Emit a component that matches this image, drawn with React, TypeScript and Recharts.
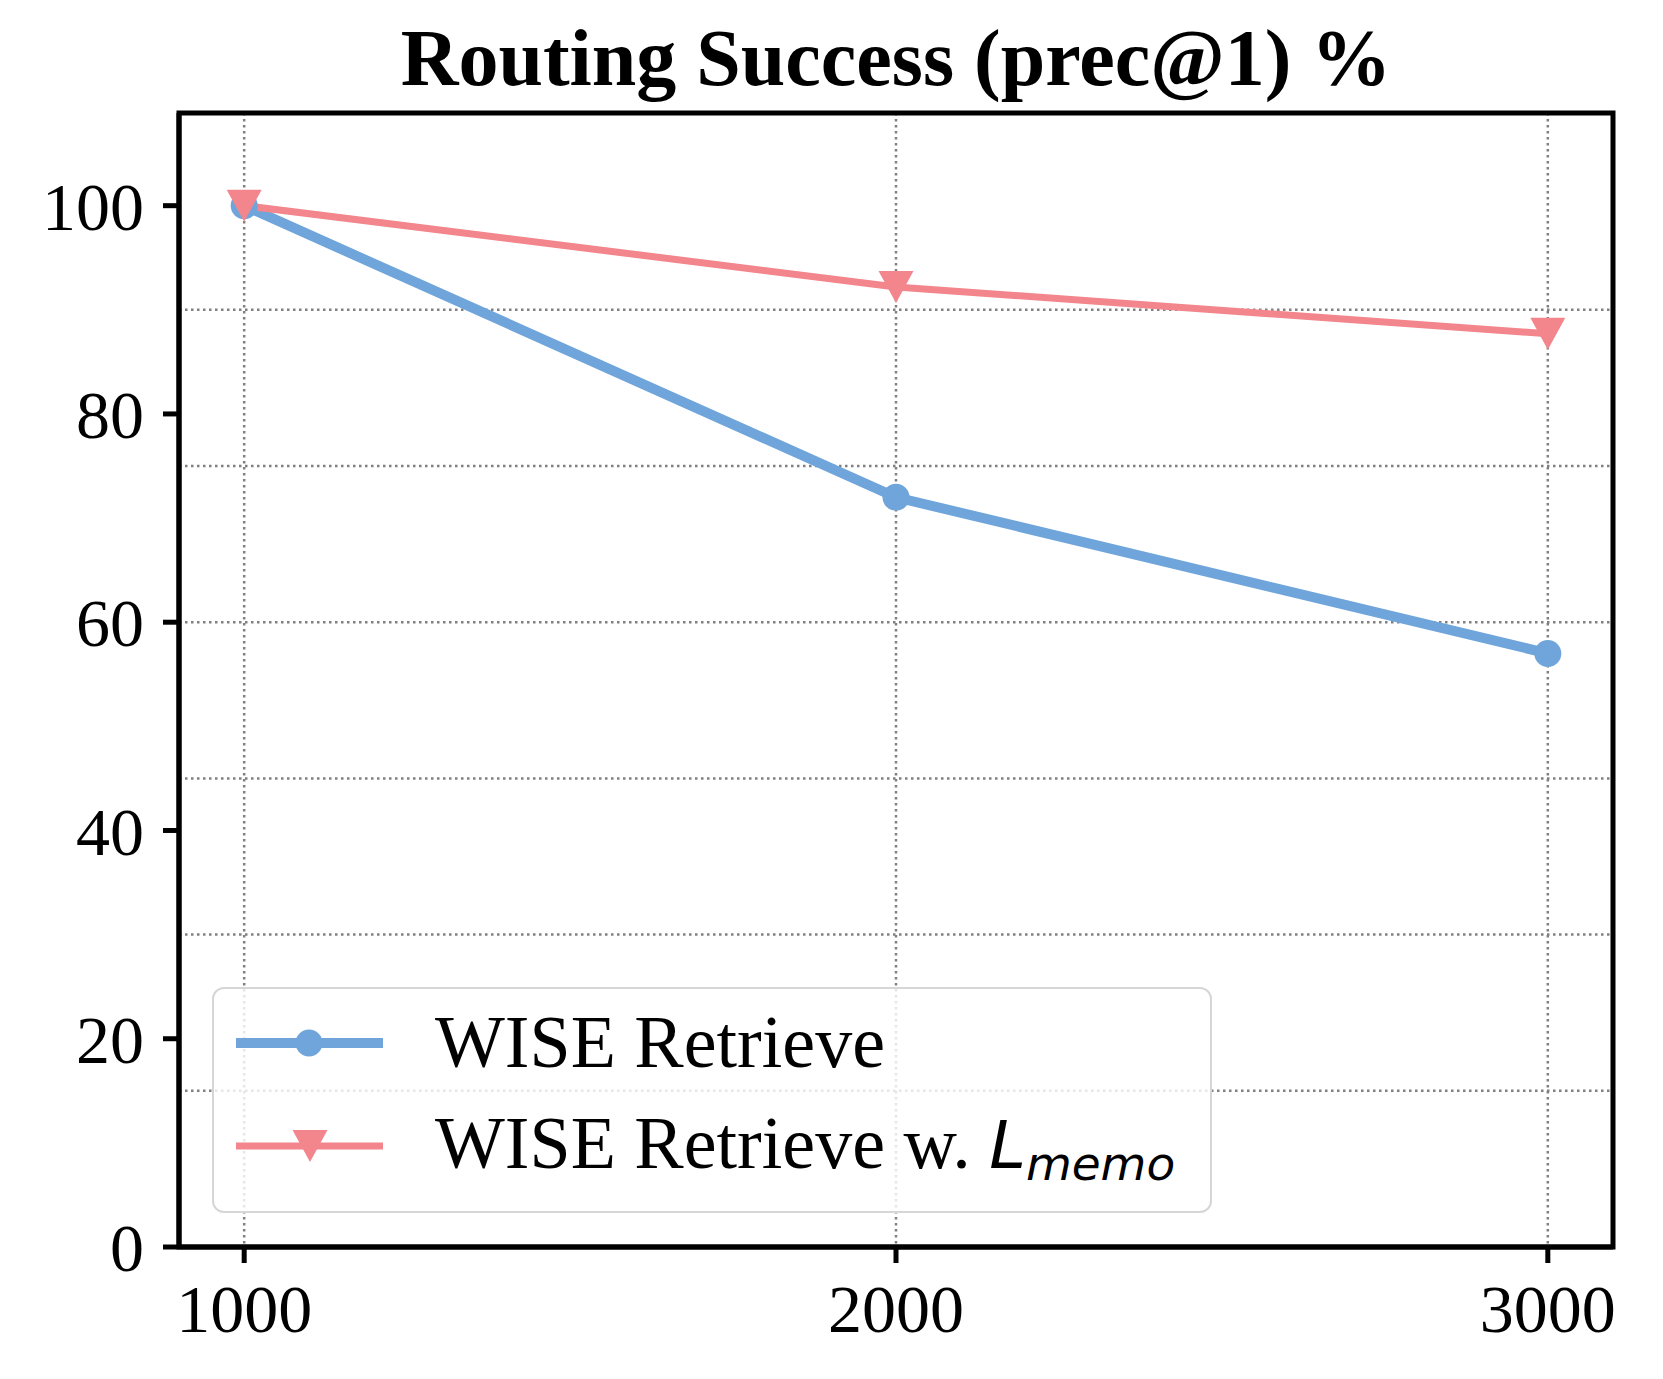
import { LineChart, Line, XAxis, YAxis, CartesianGrid, ReferenceArea } from 'recharts';

const sizes = [1000, 2000, 3000];
const wiseRetrieve = [100, 72.0, 57.0];
const wiseRetrieveMemo = [100, 92.2, 87.7];

const xDomain = [900, 3100];
const yDomain = [0, 108.9];
const yTicks = [0, 20, 40, 60, 80, 100];
const gridRows = [15, 30, 45, 60, 75, 90];

const BLUE = '#6fa5da';
const RED = '#f2868c';
const SERIF = '"Liberation Serif", "Times New Roman", serif';

const data = sizes.map((n, i) => ({
  n,
  retrieve: wiseRetrieve[i],
  memo: wiseRetrieveMemo[i],
}));

const spine = { stroke: '#000', strokeWidth: 5 };
const tickFont = { fill: '#000', fontSize: 68, fontFamily: SERIF };

function TriangleDown(props: any) {
  const { cx, cy, fill } = props;
  if (cx == null || cy == null) return null;
  const w = 35;
  const h = 32;
  return (
    <polygon
      points={`${cx - w / 2},${cy - h / 2} ${cx + w / 2},${cy - h / 2} ${cx},${cy + h / 2}`}
      fill={fill}
    />
  );
}

function Overlay() {
  return (
    <svg
      width={1663}
      height={1379}
      style={{ position: 'absolute', left: 0, top: 0, pointerEvents: 'none' }}
    >
      <text
        x={896}
        y={85}
        textAnchor="middle"
        fontFamily={SERIF}
        fontWeight="bold"
        fontSize={80}
        fill="#000"
      >
        Routing Success (prec@1) %
      </text>

      {/* legend */}
      <rect
        x={213}
        y={988}
        width={998}
        height={224}
        rx={11}
        fill="rgba(255,255,255,0.8)"
        stroke="#d6d6d6"
        strokeWidth={2}
      />
      <line x1={236} x2={383} y1={1043} y2={1043} stroke={BLUE} strokeWidth={10} />
      <circle cx={309} cy={1043} r={13.5} fill={BLUE} />
      <text x={435} y={1067} fontFamily={SERIF} fontSize={74} fill="#000">
        WISE Retrieve
      </text>

      <line x1={236} x2={383} y1={1146} y2={1146} stroke={RED} strokeWidth={7} />
      <TriangleDown cx={310} cy={1146} fill={RED} />
      <text x={435} y={1168} fontFamily={SERIF} fontSize={74} fill="#000">
        WISE Retrieve w.{' '}
        <tspan fontFamily="DejaVu Sans" fontStyle="italic" fontSize={66}>
          L
        </tspan>
        <tspan fontFamily="DejaVu Sans" fontStyle="italic" fontSize={47} dy={12}>
          memo
        </tspan>
      </text>
    </svg>
  );
}

export default function App() {
  return (
    <div
      style={{
        position: 'absolute',
        left: 0,
        top: 0,
        width: 1663,
        height: 1379,
        background: '#fff',
      }}
    >
      <LineChart
        width={1663}
        height={1379}
        data={data}
        margin={{ top: 113, right: 50, bottom: 32, left: 0 }}
      >
        <CartesianGrid
          horizontalValues={gridRows}
          verticalValues={sizes}
          stroke="#808080"
          strokeWidth={2.5}
          strokeDasharray="2.5 3.5"
        />
        <XAxis
          dataKey="n"
          type="number"
          domain={xDomain}
          ticks={sizes}
          allowDataOverflow
          height={100}
          tickSize={16}
          tickMargin={21}
          axisLine={spine}
          tickLine={spine}
          tick={tickFont}
        />
        <YAxis
          type="number"
          domain={yDomain}
          ticks={yTicks}
          allowDataOverflow
          width={179}
          tickSize={16}
          tickMargin={19}
          axisLine={spine}
          tickLine={spine}
          tick={tickFont}
        />
        <Line
          dataKey="retrieve"
          stroke={BLUE}
          strokeWidth={10}
          dot={{ r: 13.5, fill: BLUE, stroke: 'none' }}
          activeDot={false}
          isAnimationActive={false}
        />
        <Line
          dataKey="memo"
          stroke={RED}
          strokeWidth={7}
          dot={(p: any) => <TriangleDown key={`m-${p.index}`} cx={p.cx} cy={p.cy} fill={RED} />}
          activeDot={false}
          isAnimationActive={false}
        />
        {/* plot frame (top / right spines) */}
        <ReferenceArea
          x1={xDomain[0]}
          x2={xDomain[1]}
          y1={yDomain[0]}
          y2={yDomain[1]}
          fill="none"
          fillOpacity={0}
          stroke="#000"
          strokeWidth={5}
          strokeOpacity={1}
        />
      </LineChart>
      <Overlay />
    </div>
  );
}
